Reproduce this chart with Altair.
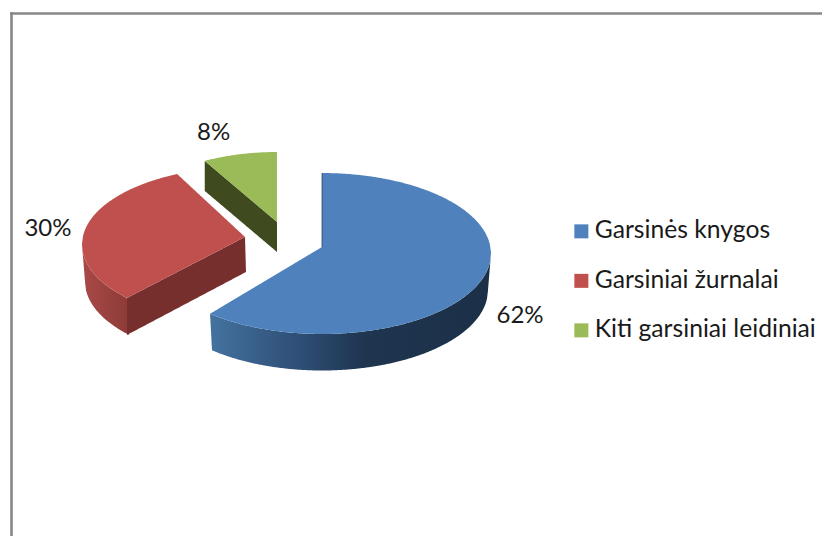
import numpy as np
import pandas as pd
import altair as alt

categories = ["Garsinės knygos", "Garsiniai žurnalai", "Kiti garsiniai leidiniai"]
shares = [62, 30, 8]
colors = ["#4F81BD", "#C0504D", "#9BBB59"]
percent_labels = ["62%", "30%", "8%"]

# page-pixel scales
xs = alt.Scale(domain=[8, 822], range=[0, 814], nice=False, zero=False)
ys = alt.Scale(domain=[8, 536], range=[0, 528], nice=False, zero=False)

# exploded-slice layout of the tilted pie (perspective nudges the cut angles slightly)
GEOM = [
    dict(cx=322, cy=253.5, rx=169, ry=80.5, ax=322, ay=247, d=36.5, shrink=3, da=(0, -1.7)),
    dict(cx=245, cy=244.5, rx=163, ry=77.5, ax=245, ay=237, d=37, shrink=3, da=(3.2, 4.2)),
    dict(cx=277, cy=224, rx=150, ry=72, ax=277, ay=222, d=30, shrink=0, da=(0, 0)),
]
LABEL_OFFSET = [(40, 34), (-37, -1), (-26, -21)]

edges = np.cumsum([0] + shares) / sum(shares) * 2 * np.pi


def span(i):
    g = GEOM[i]
    return edges[i] + np.radians(g["da"][0]), edges[i + 1] + np.radians(g["da"][1])


def arc(g, t0, t1, dy=0.0, shrink=0.0, n=90):
    t = np.linspace(t0, t1, n)
    return np.c_[g["cx"] + (g["rx"] - shrink) * np.sin(t), g["cy"] + dy - g["ry"] * np.cos(t)]


def scan(poly):
    """Turn a closed outline into upper/lower boundaries over x."""
    p = np.asarray(poly, dtype=float)
    q = np.roll(p, -1, axis=0)
    lo, hi = float(p[:, 0].min()), float(p[:, 0].max())
    grid = set(np.arange(np.ceil(lo), hi, 1.0).tolist())
    grid |= {lo + 0.01, hi - 0.01}
    for vx in p[:, 0].tolist():
        if abs(vx - round(vx)) < 1e-6:
            for e in (-0.01, 0.01):
                if lo < vx + e < hi:
                    grid.add(vx + e)
    rows = []
    for x in sorted(grid):
        hits = []
        for (x0, y0), (x1, y1) in zip(p.tolist(), q.tolist()):
            if (x0 <= x < x1) or (x1 <= x < x0):
                hits.append(y0 + (x - x0) * (y1 - y0) / (x1 - x0))
        if len(hits) >= 2:
            rows.append((round(x, 2), round(min(hits), 2), round(max(hits), 2)))
    return pd.DataFrame(rows, columns=["x", "y", "y2"])


def area(df, color):
    return alt.Chart(df).mark_area(color=color).encode(
        x=alt.X("x:Q", scale=xs, axis=None),
        y=alt.Y("y:Q", scale=ys, axis=None),
        y2="y2:Q",
    )


def side_gradient(stops):
    return alt.Gradient(
        gradient="linear", x1=0, y1=0, x2=1, y2=0,
        stops=[alt.GradientStop(offset=o, color=c) for o, c in stops],
    )


layers = []
top_frames = []
for i, g in enumerate(GEOM):
    t0, t1 = span(i)
    top = np.vstack([[[g["ax"], g["ay"]]], arc(g, t0, t1)])
    df = scan(top)
    df["series"] = categories[i]
    top_frames.append(df)

# blue outer wall
g = GEOM[0]
t1 = span(0)[1]
start = np.pi / 2
wall = np.vstack([arc(g, start, t1), arc(g, start, t1, g["d"], g["shrink"])[::-1]])
layers.append(area(scan(wall), side_gradient([
    (0, "#44729f"), (0.3, "#2f5078"), (0.55, "#1f3550"), (1, "#1b3047")])))

# red outer wall and cut face
g = GEOM[1]
t0, t1 = span(1)[0], 1.5 * np.pi
wall = np.vstack([arc(g, t0, t1), arc(g, t0, t1, g["d"], g["shrink"])[::-1]])
layers.append(area(scan(wall), side_gradient([(0, "#a94a47"), (1, "#8c3a38")])))
p = arc(g, t0, t0, n=1)[0]
cut = [[g["ax"], g["ay"]], p, p + [0, g["d"]], [g["ax"] + 1, g["ay"] + 35]]
layers.append(area(scan(cut), "#772F2D"))

# green cut face
g = GEOM[2]
t0 = span(2)[0]
p = arc(g, t0, t0, n=1)[0]
cut = [[g["ax"], g["ay"]], p, p + [0, g["d"]], [g["ax"], g["ay"] + g["d"]]]
layers.append(area(scan(cut), "#3F4A1E"))

tops = alt.Chart(pd.concat(top_frames, ignore_index=True)).mark_area().encode(
    x=alt.X("x:Q", scale=xs, axis=None),
    y=alt.Y("y:Q", scale=ys, axis=None),
    y2="y2:Q",
    color=alt.Color(
        "series:N",
        scale=alt.Scale(domain=categories, range=colors),
        legend=alt.Legend(
            title=None, orient="none", legendX=561, legendY=211,
            symbolType="square", symbolSize=196, symbolStrokeWidth=0,
            labelFont="Lato", labelFontSize=24.7, labelColor="#1a1a1a",
            labelOffset=1, labelLimit=300, rowPadding=23.5, padding=0,
        ),
    ),
)
layers.append(tops)

# thin dark edge of the blue slice
g = GEOM[0]
layers.append(alt.Chart(pd.DataFrame({"x": [g["ax"]], "y": [g["cy"] - g["ry"]], "y2": [g["ay"]]}))
              .mark_rule(color="#1f3550", strokeWidth=1, opacity=0.7)
              .encode(x=alt.X("x:Q", scale=xs, axis=None), y=alt.Y("y:Q", scale=ys, axis=None), y2="y2:Q"))

# percentage labels anchored at slice mid-angles
for i, g in enumerate(GEOM):
    a, b = span(i)
    mid = (a + b) / 2
    m = arc(g, mid, mid, n=1)[0]
    df = pd.DataFrame({"x": [float(m[0])], "y": [float(m[1])], "t": [percent_labels[i]]})
    layers.append(alt.Chart(df).mark_text(
        font="Lato", fontSize=24, color="#1a1a1a",
        dx=LABEL_OFFSET[i][0], dy=LABEL_OFFSET[i][1], align="center", baseline="middle",
    ).encode(x=alt.X("x:Q", scale=xs, axis=None), y=alt.Y("y:Q", scale=ys, axis=None), text="t:N"))

# chart frame
frame_top = alt.Chart(pd.DataFrame({"x": [10.2], "x2": [822], "y": [13.5]})).mark_rule(
    color="#878787", strokeWidth=2.6).encode(
    x=alt.X("x:Q", scale=xs, axis=None), x2="x2:Q", y=alt.Y("y:Q", scale=ys, axis=None))
frame_left = alt.Chart(pd.DataFrame({"x": [11.5], "y": [12.2], "y2": [536]})).mark_rule(
    color="#878787", strokeWidth=2.6).encode(
    x=alt.X("x:Q", scale=xs, axis=None), y=alt.Y("y:Q", scale=ys, axis=None), y2="y2:Q")

chart = alt.layer(frame_top, frame_left, *layers).properties(
    width=814, height=528, padding=0,
    autosize=alt.AutoSizeParams(type="none"),
).configure_view(stroke=None)

chart.save("out.html", embed_options={"renderer": "svg", "actions": False})
